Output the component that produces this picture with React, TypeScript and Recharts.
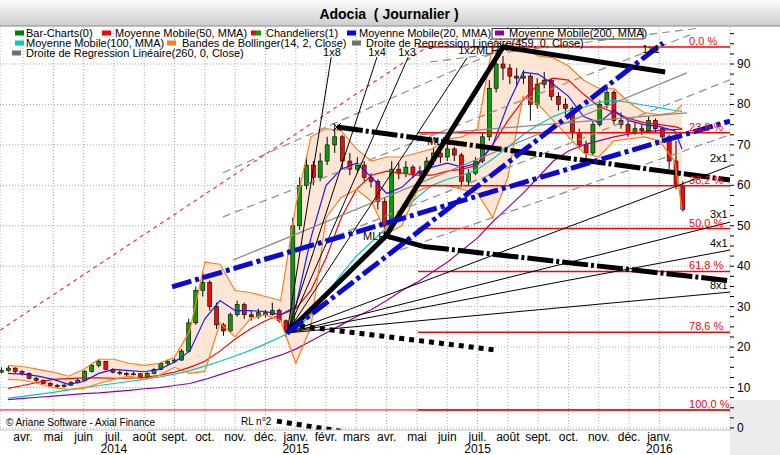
import React from "react";
import { ComposedChart, XAxis, YAxis, CartesianGrid, Line, Area, Bar, Scatter } from "recharts";

const FONT = '"Liberation Sans", Arial, sans-serif';

// x axis is in months, 0 = 1 avr. 2014
const MONTHS = ["avr.", "mai", "juin", "juil.", "août", "sept.", "oct.", "nov.", "déc.", "janv.", "févr.", "mars",
  "avr.", "mai", "juin", "juil.", "août", "sept.", "oct.", "nov.", "déc.", "janv."];
const MONTH_TICKS = MONTHS.map((_, i) => i);
const YEARS: Record<number, string> = { 3: "2014", 9: "2015", 15: "2015", 21: "2016" };
const X_DOMAIN = [-0.76, 23.33];
const Y_DOMAIN = [-0.5, 99.15];
const Y_TICKS = [0, 2.5, 5, 7.5, 10, 12.5, 15, 17.5, 20, 22.5, 25, 27.5, 30, 32.5, 35, 37.5, 40, 42.5, 45, 47.5,
  50, 52.5, 55, 57.5, 60, 62.5, 65, 67.5, 70, 72.5, 75, 77.5, 80, 82.5, 85, 87.5, 90, 92.5, 95, 97.5];
const Y_GRID = [0, 10, 20, 30, 40, 50, 60, 70, 80, 90];

// weekly candles from the week of 10 mars 2014: open, high, low, close
const FIRST_WEEK = Date.UTC(2014, 2, 10);
const CANDLES: [number, number, number, number][] = [
  [13.8, 15.0, 13.5, 14.2], [14.2, 15.3, 13.9, 14.8], [14.8, 15.0, 13.6, 14.0], [14.0, 14.3, 13.0, 13.5],
  [13.5, 13.7, 12.0, 12.3], [12.3, 12.6, 11.4, 11.8], [11.8, 12.0, 10.8, 11.0], [11.0, 11.3, 10.2, 10.5],
  [10.5, 10.9, 9.9, 10.3], [10.3, 11.0, 10.0, 10.6], [10.6, 11.6, 10.4, 11.2], [11.2, 12.3, 11.0, 11.8],
  [11.8, 14.3, 11.6, 14.0], [14.0, 15.8, 13.7, 15.5], [15.5, 17.0, 15.0, 16.5], [16.5, 16.6, 14.2, 14.5],
  [14.5, 14.8, 13.5, 13.8], [13.8, 14.2, 13.1, 13.5], [13.5, 13.9, 12.8, 13.2], [13.2, 13.9, 13.0, 13.4],
  [13.4, 13.6, 12.0, 12.5], [12.5, 13.8, 12.3, 13.5], [13.5, 14.8, 13.3, 14.5], [14.5, 16.3, 14.3, 16.0],
  [16.0, 16.9, 15.6, 16.5], [16.5, 17.2, 16.0, 16.8], [16.8, 19.5, 16.6, 19.0], [19.0, 27.0, 18.8, 26.0],
  [26.0, 35.0, 25.5, 34.0], [34.0, 38.5, 32.5, 36.0], [36.0, 36.5, 29.0, 30.0], [30.0, 31.0, 24.5, 25.5],
  [25.5, 26.0, 22.8, 24.0], [24.0, 28.5, 23.6, 28.0], [28.0, 31.5, 27.5, 30.5], [30.5, 31.0, 27.0, 28.0],
  [28.0, 29.0, 26.5, 27.5], [27.5, 29.5, 27.0, 28.5], [28.5, 29.2, 27.3, 28.0], [28.0, 31.0, 27.8, 29.0],
  [29.0, 29.5, 26.0, 26.5], [26.5, 26.8, 22.5, 24.0], [24.0, 52.0, 23.5, 50.0], [50.0, 62.0, 49.0, 60.0],
  [60.0, 67.0, 59.0, 65.0], [65.0, 66.0, 60.0, 62.0], [62.0, 68.0, 61.0, 66.0], [66.0, 72.0, 65.0, 70.0],
  [70.0, 75.0, 68.0, 72.0], [72.0, 72.5, 64.0, 66.0], [66.0, 68.0, 62.5, 64.0], [64.0, 67.0, 63.0, 65.0],
  [65.0, 66.0, 61.0, 62.0], [62.0, 63.0, 59.5, 61.0], [61.0, 61.5, 54.0, 56.0], [56.0, 57.0, 47.5, 50.0],
  [50.0, 66.0, 49.5, 64.0], [64.0, 65.5, 61.5, 63.0], [63.0, 66.0, 62.0, 64.5], [64.5, 65.0, 61.8, 63.0],
  [63.0, 64.8, 62.2, 63.5], [63.5, 67.0, 63.0, 66.0], [66.0, 69.5, 65.0, 68.0], [68.0, 69.0, 65.5, 67.0],
  [67.0, 70.5, 66.0, 69.0], [69.0, 69.5, 66.0, 67.5], [67.5, 68.0, 59.5, 61.0], [61.0, 64.0, 60.0, 63.0],
  [63.0, 67.0, 62.5, 66.0], [66.0, 73.0, 65.5, 72.0], [72.0, 86.0, 71.0, 84.0], [84.0, 93.5, 83.0, 90.0],
  [90.0, 92.0, 86.0, 89.0], [89.0, 90.0, 85.0, 87.0], [87.0, 89.0, 84.5, 86.5], [86.5, 88.5, 85.0, 87.0],
  [87.0, 87.5, 76.0, 80.0], [80.0, 86.5, 79.0, 85.0], [85.0, 88.0, 84.0, 86.0], [86.0, 86.5, 81.0, 82.0],
  [82.0, 83.0, 78.5, 80.0], [80.0, 81.5, 77.5, 79.0], [79.0, 79.5, 71.5, 73.0], [73.0, 74.0, 69.0, 70.0],
  [70.0, 71.0, 66.5, 68.0], [68.0, 76.0, 67.5, 75.0], [75.0, 81.0, 74.5, 80.0], [80.0, 85.0, 79.0, 83.0],
  [83.0, 83.5, 75.0, 76.0], [76.0, 78.0, 74.0, 75.0], [75.0, 76.0, 72.0, 73.0], [73.0, 75.5, 72.5, 74.0],
  [74.0, 75.0, 72.5, 73.5], [73.5, 77.0, 73.0, 76.0], [76.0, 76.5, 73.0, 74.0], [74.0, 74.5, 70.5, 72.0],
  [72.0, 72.5, 64.0, 66.0], [66.0, 71.0, 59.0, 60.0], [60.0, 61.0, 53.5, 54.0],
];

// indicators, sampled every half month
const MA_X = [-0.5, 0, 0.5, 1, 1.5, 2, 2.5, 3, 3.5, 4, 4.5, 5, 5.5, 6, 6.5, 7, 7.5, 8, 8.5, 9, 9.5, 10, 10.5,
  11, 11.5, 12, 12.5, 13, 13.5, 14, 14.5, 15, 15.5, 16, 16.5, 17, 17.5, 18, 18.5, 19, 19.5, 20, 20.5, 21, 21.5, 21.75];
const MA20 = [13.5, 13.3, 12.8, 12.0, 10.8, 11.5, 13.5, 14.5, 14.2, 13.9, 14.5, 16.3, 19, 27, 31.5, 29, 29, 28.8,
  28, 30, 47, 60, 64, 65.5, 62, 58, 59.5, 63, 64.5, 65.5, 64.5, 65.5, 70, 80, 88, 87.5, 85, 82, 77, 75.5, 78.5,
  76, 75, 74.5, 73.5, 69];
const MA50 = [9.8, 10.5, 11.3, 12.0, 12.2, 12.4, 12.4, 12.3, 12.3, 12.5, 13.0, 13.8, 15.0, 16.5, 19.0, 22, 24.5,
  26.5, 28, 29.5, 34, 42, 52, 59, 62.5, 63.5, 63, 62.5, 62.5, 63.5, 64, 65, 70, 76, 81, 85, 86.5, 86, 82.5, 79.5,
  78, 76.5, 75.5, 75, 74.5, 74];
const MA100 = [7.4, 7.8, 8.3, 8.8, 9.4, 10.0, 10.5, 11.0, 11.5, 12.0, 12.6, 13.3, 14.2, 15.3, 16.5, 17.8, 19.2,
  20.8, 22.5, 24.5, 28, 33, 38, 42.5, 46, 49.5, 53.5, 57, 60, 61.5, 62.5, 64, 66.5, 69.5, 72.5, 75, 77, 78.5,
  79.3, 80.5, 81, 80.5, 79.8, 79.2, 78.5, 78.3];
const MA200 = [7.0, 7.3, 7.6, 7.9, 8.2, 8.5, 8.7, 9.0, 9.3, 9.7, 10.0, 10.5, 11.0, 12.0, 13.2, 14.4, 15.6, 16.8,
  18.0, 19.5, 21.5, 23.5, 25.5, 27.5, 29.3, 31.5, 34, 36, 38.5, 41, 44, 47, 51, 54.5, 58, 62, 66, 68.5, 70, 71,
  72, 72.7, 73.2, 73.6, 73.8, 73.9];
const BB_UP = [15.5, 15.2, 14.5, 13.8, 12.8, 14.5, 17.0, 17.0, 16.0, 15.5, 16.0, 17.5, 24, 41, 40.5, 34, 33.5,
  32.5, 31.5, 55, 72, 74, 73.5, 69, 66, 67, 67, 68, 69, 71.5, 72, 74, 95, 99, 94, 92, 91.5, 89.5, 86, 84, 84,
  80.5, 78, 77.5, 78, 80];
const BB_LOW = [12.0, 11.8, 11.0, 10.0, 9.5, 9.8, 11.0, 12.0, 12.8, 12.0, 13.0, 15.0, 13.5, 14, 26, 22.5, 27,
  28, 26.5, 16, 25, 52, 57, 59, 56, 48, 50, 58.5, 60, 60, 59, 58, 52, 62, 82, 80, 76, 72, 68, 67, 71, 71.5, 72,
  71, 66, 54];

// Fibonacci retracement
const FIB_LEVELS = [94.2, 73.0, 59.9, 49.3, 38.7, 23.7, 4.45];
const FIB_LABELS = ["0,0 %", "23,6 %", "38,2 %", "50,0 %", "61,8 %", "78,6 %", "100,0 %"];
const FIB_START = 13.03;

// drawn objects, as [month, value] points
const PIVOT: [number, number] = [8.71, 23.5];
const FAN_ENDS: [number, number][] = [[10.17, 91.7], [11.68, 91.7], [12.71, 91.7], [14.65, 91.5],
  [23.33, 64.8], [23.33, 50.9], [23.33, 44.0], [23.33, 33.6]];
const FAN_LABELS = ["1x8", "1x4", "1x3", "1x2MLH", "1x1", "2x1", "3x1", "4x1", "8x1", "MLH", "MLH"];
const FAN_LABEL_AT: [number, number][] = [[9.9, 92.0], [11.39, 92.0], [12.38, 92.0], [14.36, 92.5], [20.43, 92.7],
  [22.67, 65.8], [22.67, 51.9], [22.67, 44.8], [22.67, 34.4], [11.22, 46.5], [13.33, 70.0]];
const PITCH_PATH: [number, number][] = [[8.71, 23.5], [11.98, 47.5], [15.84, 94.2], [21.19, 88.0]];
const BLUE_DASHDOT: [number, number][][] = [[[4.92, 34.9], [23.33, 75.9]], [[8.71, 23.5], [21.12, 95.2]]];
const BLACK_DASHDOT: [number, number][][] = [[[10.36, 74.4], [23.33, 61.3]], [[13.2, 44.9], [23.33, 36.4]]];
const BLACK_SOLID_STUB: [number, number][] = [[11.98, 47.5], [13.2, 44.9]];
const BLACK_DOTTED: [number, number][][] = [[[8.81, 25.5], [15.58, 19.3]], [[8.38, 1.7], [10.63, -1.0]]];
const RED_DASHED: [number, number][] = [[-0.76, 24.2], [13.33, 94.2]];
const GRAY_DASHED: [number, number][][] = [
  [[6.6, 63.1], [17.23, 98.4]], [[6.6, 52.2], [22.01, 97.2]], [[9.14, 44.0], [23.33, 86.1]],
  [[12.44, 44.0], [23.33, 72.5]], [[13.43, 90.5], [22.34, 98.9]],
];
const GRAY_SOLID: [number, number][][] = [[[6.93, 41.5], [21.91, 87.8]], [[13.1, 72.5], [21.91, 77.9]]];
const CROSSES: [number, number][] = [[10.36, 74.4], [11.98, 47.5], [15.84, 94.2]];
const RL_LABEL: [number, number] = [7.19, 0.74];

const LEGEND = [
  { row: 0, sx: 15, tx: 26, colors: ["#008000"], text: "Bar-Charts(0)" },
  { row: 0, sx: 102, tx: 115, colors: ["#ff0000"], text: "Moyenne Mobile(50, MMA)" },
  { row: 0, sx: 251, tx: 266, colors: ["#ff0000", "#00a000"], text: "Chandeliers(1)" },
  { row: 0, sx: 347, tx: 359, colors: ["#0000ff"], text: "Moyenne Mobile(20, MMA)" },
  { row: 0, sx: 495, tx: 509, colors: ["#990099"], text: "Moyenne Mobile(200, MMA)", boxed: true },
  { row: 1, sx: 15, tx: 26, colors: ["#00cccc"], text: "Moyenne Mobile(100, MMA)" },
  { row: 1, sx: 167, tx: 182, colors: ["#ff7f1a"], text: "Bandes de Bollinger(14, 2, Close)" },
  { row: 1, sx: 352, tx: 366, colors: ["#707070"], text: "Droite de Regression Linéaire(459, 0, Close)" },
  { row: 2, sx: 12, tx: 26, colors: ["#707070"], text: "Droite de Regression Linéaire(260, 0, Close)" },
];

function toMonth(t: number) {
  const d = new Date(t);
  const days = new Date(Date.UTC(d.getUTCFullYear(), d.getUTCMonth() + 1, 0)).getUTCDate();
  return (d.getUTCFullYear() - 2014) * 12 + d.getUTCMonth() - 3 + (d.getUTCDate() - 1) / days;
}

const candleRows = CANDLES.map(([o, h, l, c], k) => ({ x: toMonth(FIRST_WEEK + k * 7 * 86400000), o, h, l, c }));
const maRows = MA_X.map((x, i) => ({
  x, ma20: MA20[i], ma50: MA50[i], ma100: MA100[i], ma200: MA200[i], bbUp: BB_UP[i], bbLow: BB_LOW[i],
}));
const chartData: any[] = [...candleRows, ...maRows].sort((a, b) => a.x - b.x);

const pts = (p: [number, number][]) => p.map(([x, y]) => ({ x, y }));

function Candle(props: any) {
  const { x, y, width, height, payload } = props;
  if (!payload || payload.o == null) return null;
  const cx = x + width / 2;
  const top = Math.min(y, y + height);
  const span = Math.abs(height);
  const ppu = span / (payload.h - payload.l || 1);
  const yO = top + (payload.h - payload.o) * ppu;
  const yC = top + (payload.h - payload.c) * ppu;
  const up = payload.c >= payload.o;
  return (
    <g>
      <line x1={cx} x2={cx} y1={top} y2={top + span} stroke="#000" strokeWidth={1} />
      <rect x={cx - 2} y={Math.min(yO, yC)} width={4} height={Math.max(1, Math.abs(yC - yO))}
        fill={up ? "#0a9a0a" : "#e41010"} stroke="#000" strokeWidth={0.6} />
    </g>
  );
}

const XTick = ({ x, y, payload }: any) => (
  <g fontFamily={FONT} fontSize={12} fill="#000">
    <text x={x} y={y + 11} textAnchor="middle">{MONTHS[payload.value]}</text>
    {YEARS[payload.value] && <text x={x} y={y + 23} textAnchor="middle">{YEARS[payload.value]}</text>}
  </g>
);

const YTick = ({ x, y, payload }: any) => (
  <g>
    <line x1={x} x2={x + 4} y1={y} y2={y} stroke="#000" />
    {payload.value % 10 === 0 && (
      <text x={x + 7} y={y + 4} fontFamily={FONT} fontSize={12} fill="#000">{payload.value}</text>
    )}
  </g>
);

const TextMark = (p: any) => (
  <text x={p.cx} y={p.cy} fontFamily={FONT} fontSize={p.payload.size} fill={p.payload.color}>{p.payload.text}</text>
);

const CrossMark = (p: any) => (
  <path d={`M${p.cx - 4},${p.cy - 4}L${p.cx + 4},${p.cy + 4}M${p.cx - 4},${p.cy + 4}L${p.cx + 4},${p.cy - 4}`}
    stroke="#000" strokeWidth={1} />
);

const fanNotes = FAN_LABELS.map((text, i) => ({ x: FAN_LABEL_AT[i][0], y: FAN_LABEL_AT[i][1], text, size: 11, color: "#000" }))
  .concat([{ x: RL_LABEL[0], y: RL_LABEL[1], text: "RL n°2", size: 10, color: "#000" }]);
const fibNotes = FIB_LABELS.map((text, i) => ({ x: 21.98, y: FIB_LEVELS[i] + 0.5, text, size: 11, color: "#ff0000" }));

export default function App() {
  return (
    <div style={{ position: "absolute", left: 0, top: 0, width: 780, height: 455, background: "#fff", overflow: "hidden" }}>
      <div style={{ position: "absolute", left: 730, top: 400, width: 50, height: 55, background: "#ececec" }} />
      <ComposedChart width={780} height={455} data={chartData} margin={{ top: 27, right: 0, bottom: 0, left: 0 }}>
        <CartesianGrid stroke="#a8a8a8" strokeDasharray="1 2" horizontalValues={Y_GRID} />
        <XAxis type="number" dataKey="x" domain={X_DOMAIN} allowDataOverflow ticks={MONTH_TICKS} interval={0}
          height={25} tickSize={0} tickMargin={0} tickLine={false} axisLine={{ stroke: "#bdbdbd" }} tick={<XTick />} />
        <YAxis type="number" orientation="right" domain={Y_DOMAIN} allowDataOverflow ticks={Y_TICKS} interval={0}
          width={50} tickSize={0} tickMargin={0} tickLine={false} axisLine={false} tick={<YTick />} />

        <Area dataKey={(d: any) => (d.bbUp == null ? null : [d.bbLow, d.bbUp])} connectNulls stroke="none"
          fill="#fde2cf" fillOpacity={0.85} isAnimationActive={false} />
        <Bar dataKey={(d: any) => (d.o == null ? null : [d.l, d.h])} barSize={4} shape={<Candle />} isAnimationActive={false} />

        <Line dataKey="ma200" connectNulls stroke="#990099" strokeWidth={1.2} dot={false} isAnimationActive={false} />
        <Line dataKey="ma100" connectNulls stroke="#00c8c8" strokeWidth={1.2} dot={false} isAnimationActive={false} />
        <Line dataKey="ma50" connectNulls stroke="#ff0000" strokeWidth={1.2} dot={false} isAnimationActive={false} />
        <Line dataKey="ma20" connectNulls stroke="#1a1aff" strokeWidth={1.2} dot={false} isAnimationActive={false} />
        <Line dataKey="bbUp" connectNulls stroke="#ff7f1a" strokeWidth={1.2} dot={false} isAnimationActive={false} />
        <Line dataKey="bbLow" connectNulls stroke="#ff7f1a" strokeWidth={1.2} dot={false} isAnimationActive={false} />

        <Line data={pts([[X_DOMAIN[0], FIB_LEVELS[6]], [X_DOMAIN[1], FIB_LEVELS[6]]])} dataKey="y" stroke="#ff0000"
          strokeWidth={1} dot={false} isAnimationActive={false} />
        {FIB_LEVELS.map((v, i) => (
          <Line key={`fib${i}`} data={pts([[FIB_START, v], [X_DOMAIN[1], v]])} dataKey="y" stroke="#ff0000"
            strokeWidth={1.5} dot={false} isAnimationActive={false} />
        ))}
        {GRAY_DASHED.map((s, i) => (
          <Line key={`gd${i}`} data={pts(s)} dataKey="y" stroke="#8c8c8c" strokeWidth={1.2} strokeDasharray="8 5"
            dot={false} isAnimationActive={false} />
        ))}
        {GRAY_SOLID.map((s, i) => (
          <Line key={`gs${i}`} data={pts(s)} dataKey="y" stroke="#8a8a8a" strokeWidth={1.2} dot={false} isAnimationActive={false} />
        ))}
        <Line data={pts(RED_DASHED)} dataKey="y" stroke="#ff3030" strokeWidth={1.2} strokeDasharray="4 4" dot={false} isAnimationActive={false} />
        {FAN_ENDS.map((e, i) => (
          <Line key={`fan${i}`} data={pts([PIVOT, e])} dataKey="y" stroke="#000" strokeWidth={1} dot={false} isAnimationActive={false} />
        ))}
        {BLACK_DOTTED.map((s, i) => (
          <Line key={`bd${i}`} data={pts(s)} dataKey="y" stroke="#000" strokeWidth={5} strokeDasharray="5 5"
            dot={false} isAnimationActive={false} />
        ))}
        {BLACK_DASHDOT.map((s, i) => (
          <Line key={`bdd${i}`} data={pts(s)} dataKey="y" stroke="#000" strokeWidth={5} strokeDasharray="26 3 3 3"
            dot={false} isAnimationActive={false} />
        ))}
        <Line data={pts(BLACK_SOLID_STUB)} dataKey="y" stroke="#000" strokeWidth={5} dot={false} isAnimationActive={false} />
        <Line data={pts(PITCH_PATH)} dataKey="y" stroke="#000" strokeWidth={5} dot={false} isAnimationActive={false} />
        {BLUE_DASHDOT.map((s, i) => (
          <Line key={`bl${i}`} data={pts(s)} dataKey="y" stroke="#0a0ad0" strokeWidth={5} strokeDasharray="20 4 4 4"
            dot={false} isAnimationActive={false} />
        ))}

        <Scatter data={pts(CROSSES)} dataKey="y" shape={<CrossMark />} isAnimationActive={false} />
        <Scatter data={fanNotes} dataKey="y" shape={<TextMark />} isAnimationActive={false} />
        <Scatter data={fibNotes} dataKey="y" shape={<TextMark />} isAnimationActive={false} />
      </ComposedChart>

      <svg width={780} height={455} style={{ position: "absolute", left: 0, top: 0, pointerEvents: "none" }}>
        <defs>
          <linearGradient id="titleBg" x1="0" y1="0" x2="0" y2="1">
            <stop offset="0" stopColor="#fbfbfb" />
            <stop offset="1" stopColor="#cdcdcd" />
          </linearGradient>
        </defs>
        <rect x={0} y={0} width={780} height={26} fill="url(#titleBg)" />
        <line x1={0} x2={780} y1={26} y2={26} stroke="#8a8a8a" />
        <text x={389} y={19} textAnchor="middle" fontFamily={FONT} fontSize={14} fontWeight="bold" fill="#000">
          {"Adocia\u00a0\u00a0( Journalier )"}
        </text>
        {LEGEND.map((l, i) => {
          const base = 36.5 + l.row * 10;
          return (
            <g key={i}>
              {l.boxed && <rect x={492} y={28.5} width={151} height={10.5} fill="#fff" stroke="#333" />}
              {l.colors.map((c, j) => (
                <rect key={j} x={l.sx + j * 5} y={base - 6} width={l.colors.length > 1 ? 5 : 9} height={5} fill={c} />
              ))}
              <text x={l.tx} y={base} fontFamily={FONT} fontSize={11} fill="#000">{l.text}</text>
            </g>
          );
        })}
        <text x={6} y={426} fontFamily={FONT} fontSize={10} fill="#000">© Ariane Software - Axial Finance</text>
      </svg>
    </div>
  );
}
